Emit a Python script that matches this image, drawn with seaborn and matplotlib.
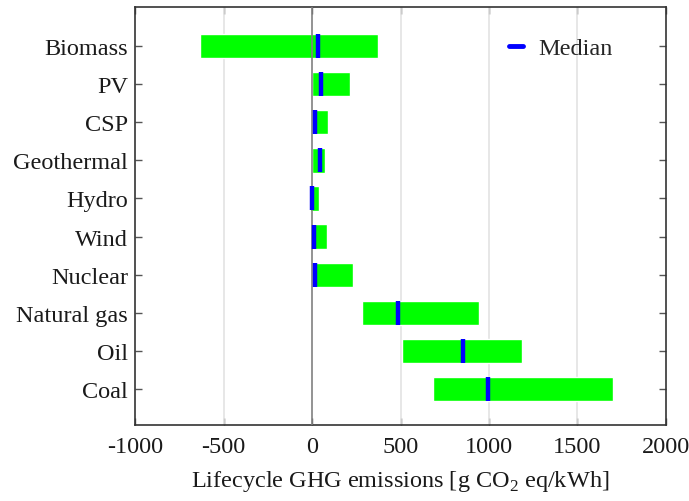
import numpy as np
import matplotlib
matplotlib.use('Agg')
import matplotlib.pyplot as plt
from matplotlib.lines import Line2D
import seaborn as sns

sources = ['Biomass', 'PV', 'CSP', 'Geothermal', 'Hydro', 'Wind', 'Nuclear',
           'Natural gas', 'Oil', 'Coal']
low = [-633, 0, 0, 0, -10, 0, 0, 285, 508, 683]
high = [370, 213, 91, 76, 40, 83, 232, 943, 1184, 1702]
median = [32, 50, 17, 43, 2, 10, 17, 483, 851, 997]

sns.set_style('white')
plt.rcParams['font.family'] = ['Liberation Serif', 'DejaVu Serif']
plt.rcParams['mathtext.fontset'] = 'custom'
plt.rcParams['mathtext.rm'] = 'Liberation Serif'

fig = plt.figure(figsize=(6.89, 5.02), dpi=100)
ax = fig.add_axes([0.196, 0.1514, 0.7706, 0.8327])

ypos = np.arange(len(sources))
low_a = np.array(low)
high_a = np.array(high)

ax.barh(ypos, high_a - low_a, left=low_a, height=0.64, color='#00ff00',
        zorder=2)
ax.axvline(0, color='#808080', lw=1.2, zorder=3)
ax.plot(median, ypos, linestyle='none', marker='|', ms=17.5, mew=3.2,
        color='#0000ff', zorder=4)

ax.set_xlim(-1000, 2000)
ax.set_ylim(9.94, -1.02)
ax.set_xticks([-1000, -500, 0, 500, 1000, 1500, 2000])
ax.set_xticklabels(['-1000', '-500', '0', '500', '1000', '1500', '2000'])
ax.set_yticks(ypos)
ax.set_yticklabels(sources)
for g in [-500, 500, 1000, 1500]:
    ax.axvline(g, color='#e3e3e3', lw=1.2, zorder=1)

ax.tick_params(direction='in', length=5, width=1, colors='#555555',
               labelcolor='#1a1a1a', labelsize=17.5, top=True, right=True,
               left=True, bottom=True, pad=8)
ax.tick_params(axis='y', pad=5)
for sp in ax.spines.values():
    sp.set_color('#333333')
    sp.set_linewidth(1.2)

ax.set_xlabel('Lifecycle GHG emissions [g CO$_2$ eq/kWh]', fontsize=17.5,
              color='#1a1a1a', labelpad=8)

handle = Line2D([], [], color='#0000ff', lw=3.5)
ax.legend([handle], ['Median'], loc='upper right', frameon=False,
          fontsize=17.5, handlelength=0.6, handletextpad=0.6,
          bbox_to_anchor=(0.94, 0.98))

fig.savefig('out.png', dpi=100)
